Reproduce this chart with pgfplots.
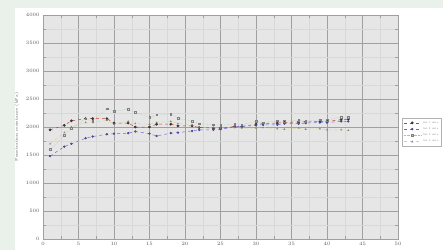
\documentclass[border=0pt]{standalone}
\usepackage{pgfplots}
\pgfplotsset{compat=1.18}
\usetikzlibrary{backgrounds}
\definecolor{bggreen}{HTML}{E9F1EA}
\definecolor{plotbg}{HTML}{E6E6E6}
\definecolor{gridmaj}{HTML}{A0A0A0}
\definecolor{gridmin}{HTML}{D8D8D8}
\definecolor{serA}{HTML}{C0403A}
\definecolor{serB}{HTML}{6A6AE0}
\definecolor{serC}{HTML}{9CC8A6}
\definecolor{serD}{HTML}{DDD670}
\begin{document}
\begin{tikzpicture}
\begin{axis}[
  scale only axis, width=355pt, height=224pt,
  xmin=0, xmax=50, ymin=0, ymax=4000,
  xtick={0,5,...,50}, ytick={0,500,...,4000},
  minor x tick num=1, minor y tick num=1,
  grid=both,
  major grid style={gridmaj, line width=0.6pt},
  minor grid style={gridmin, line width=0.3pt},
  axis background/.style={fill=plotbg},
  axis line style={gridmaj},
  tick style={gridmaj},
  /pgf/number format/.cd, set thousands separator={}, /pgfplots/.cd,
  tick label style={font=\fontsize{4}{5}\selectfont, text=gray!70!black},
  ylabel={Penetration resistance (kPa)},
  ylabel style={font=\fontsize{4}{5}\selectfont, text=gray!70!black, at={(axis description cs:-0.058,0.5)}},
  legend style={at={(rel axis cs:1.012,0.54)}, anchor=north west,
    font=\fontsize{2.5}{3}\selectfont, text=gray, draw=gray!60, inner sep=1pt,
    row sep=-1pt},
  legend cell align=left,
]
% Series A
\addplot[serA, dashed, line width=0.5pt, mark=*, mark size=1.1pt, mark options={solid, fill=black!80, draw=black!80}] coordinates {
(1,1950)(3,2030)(4,2110)(6,2150)(7,2150)(9,2150)(10,2070)(12,2070)(13,2000)(15,2000)(16,2050)(18,2050)(19,2020)(21,2020)(22,1990)(24,1980)(25,1980)(27,2010)(28,2010)(30,2050)(31,2060)(33,2070)(34,2080)(36,2090)(37,2090)(39,2100)(40,2100)(42,2130)(43,2140)};
\addlegendentry{Set 1 data}
% Series B
\addplot[serB, dashed, line width=0.5pt, mark=*, mark size=0.9pt, mark options={solid, fill=serB!60!black!70, draw=serB!60!black}] coordinates {
(1,1480)(3,1650)(4,1700)(6,1800)(7,1830)(9,1870)(10,1880)(12,1890)(13,1920)(15,1880)(16,1840)(18,1890)(19,1900)(21,1930)(22,1950)(24,1950)(25,1960)(27,2000)(28,2010)(30,2030)(31,2040)(33,2040)(34,2060)(36,2060)(37,2070)(39,2080)(40,2080)(42,2100)(43,2100)};
\addlegendentry{Set 2 data}
% Series C
\addplot[serC, densely dotted, line width=0.4pt, mark=square, mark size=0.8pt, mark options={solid, draw=gray}] coordinates {
(1,1600)(3,1850)(4,1980)(6,2150)(7,2100)(9,2330)(10,2280)(12,2320)(13,2260)(15,2170)(16,2220)(18,2230)(19,2160)(21,2100)(22,2060)(24,2040)(25,2030)(27,2050)(28,2040)(30,2100)(31,2080)(33,2110)(34,2100)(36,2120)(37,2100)(39,2130)(40,2120)(42,2180)(43,2170)};
\addlegendentry{Set 3 data}
% Series D
\addplot[serD, dashed, line width=0.4pt, mark=triangle, mark size=0.8pt, mark options={solid, draw=gray}] coordinates {
(1,1700)(3,1900)(4,2000)(6,2080)(7,2080)(9,2120)(10,2050)(12,2100)(13,2060)(15,2050)(16,2080)(18,2100)(19,2060)(21,2040)(22,2000)(24,1990)(25,1980)(27,1990)(28,1980)(30,1980)(31,1990)(33,1970)(34,1960)(36,1980)(37,1960)(39,1970)(40,1950)(42,1950)(43,1940)};
\addlegendentry{Set 4 data}
\end{axis}
\path (current axis.south west) ++(-43pt,-11pt) coordinate (bbsw) rectangle ++(443pt,250pt) coordinate (bbne);
\begin{scope}[on background layer]
\fill[bggreen] (bbsw) rectangle (bbne);
\fill[white] ([xshift=15pt]bbsw) rectangle ([yshift=-8pt]bbne);
\end{scope}
\end{tikzpicture}
\end{document}
